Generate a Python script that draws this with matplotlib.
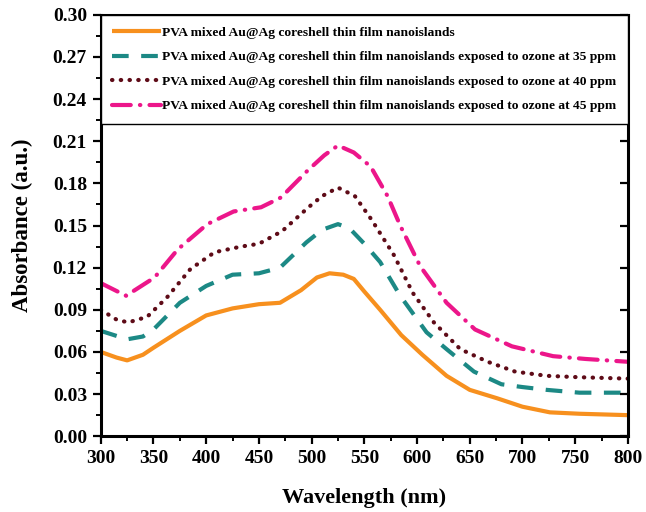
import matplotlib
matplotlib.use("Agg")
import matplotlib.pyplot as plt
from matplotlib.ticker import MultipleLocator

# absorbance spectra, wavelength in nm
wl_film = [300, 315, 325, 340, 350, 375, 400, 425, 450, 470, 490, 505, 517, 530,
           540, 550, 565, 585, 605, 628, 650, 676, 700, 726, 754, 800]
abs_film = [0.060, 0.056, 0.054, 0.058, 0.063, 0.075, 0.086, 0.091, 0.094, 0.095,
            0.104, 0.113, 0.116, 0.115, 0.112, 0.103, 0.090, 0.072, 0.058, 0.043,
            0.033, 0.027, 0.021, 0.017, 0.016, 0.015]

wl_35 = [300, 325, 340, 350, 375, 400, 425, 450, 470, 495, 510, 525, 536, 550,
         565, 584, 609, 628, 654, 680, 700, 723, 754, 800]
abs_35 = [0.075, 0.069, 0.071, 0.076, 0.095, 0.107, 0.115, 0.116, 0.120, 0.138,
          0.147, 0.151, 0.148, 0.137, 0.124, 0.100, 0.074, 0.062, 0.046, 0.037,
          0.035, 0.033, 0.031, 0.031]

wl_40 = [300, 315, 326, 344, 363, 385, 408, 433, 450, 472, 497, 510, 525, 541,
         557, 578, 596, 616, 641, 667, 693, 723, 754, 800]
abs_40 = [0.090, 0.083, 0.081, 0.085, 0.099, 0.119, 0.131, 0.135, 0.137, 0.146,
          0.163, 0.171, 0.177, 0.171, 0.154, 0.129, 0.102, 0.081, 0.062, 0.053,
          0.046, 0.043, 0.042, 0.041]

wl_45 = [300, 324, 351, 373, 401, 426, 452, 471, 496, 512, 525, 540, 556, 572,
         584, 603, 628, 655, 690, 729, 760, 800]
abs_45 = [0.109, 0.100, 0.113, 0.133, 0.151, 0.160, 0.163, 0.170, 0.189, 0.200,
          0.207, 0.202, 0.192, 0.171, 0.150, 0.121, 0.095, 0.076, 0.064, 0.057,
          0.055, 0.053]

labels = [
    "PVA mixed Au@Ag coreshell thin film nanoislands",
    "PVA mixed Au@Ag coreshell thin film nanoislands exposed to ozone at 35 ppm",
    "PVA mixed Au@Ag coreshell thin film nanoislands exposed to ozone at 40 ppm",
    "PVA mixed Au@Ag coreshell thin film nanoislands exposed to ozone at 45 ppm",
]

plt.rcParams["font.family"] = ["Liberation Serif", "DejaVu Serif"]
plt.rcParams["font.weight"] = "bold"

fig = plt.figure(figsize=(6.46, 5.12), dpi=100)
ax = fig.add_axes([0.156, 0.148, 0.816, 0.823])

ax.plot(wl_film, abs_film, color="#F7901E", lw=3.0, solid_capstyle="butt",
        label=labels[0])
ax.plot(wl_35, abs_35, color="#1C8985", lw=3.0, linestyle=(0, (4, 3)),
        label=labels[1])
ax.plot(wl_40, abs_40, color="#5E0B17", lw=3.0, linestyle=(0, (0.1, 2.0)),
        dash_capstyle="round", label=labels[2])
ax.plot(wl_45, abs_45, color="#EC168A", lw=3.0,
        linestyle=(0, (4.5, 2.2, 0.1, 2.2)), dash_capstyle="round",
        label=labels[3])

ax.set_xlim(300, 800)
ax.set_ylim(0.0, 0.30)
ax.xaxis.set_major_locator(MultipleLocator(50))
ax.xaxis.set_minor_locator(MultipleLocator(25))
ax.yaxis.set_major_locator(MultipleLocator(0.03))
ax.yaxis.set_minor_locator(MultipleLocator(0.015))
ax.yaxis.set_major_formatter(plt.FormatStrFormatter("%.2f"))

for s in ax.spines.values():
    s.set_linewidth(2.2)
ax.tick_params(which="major", direction="out", length=6, width=1.6,
               labelsize=14, pad=4)
ax.tick_params(which="minor", direction="out", length=3.5, width=1.4)
for lab in ax.get_xticklabels() + ax.get_yticklabels():
    lab.set_fontweight("bold")

# inward ticks on the right side
ax2 = ax.twinx()
ax2.set_ylim(ax.get_ylim())
ax2.yaxis.set_major_locator(MultipleLocator(0.03))
ax2.tick_params(direction="in", length=6, width=1.6, labelright=False)
for s in ax2.spines.values():
    s.set_visible(False)

ax.set_xlabel("Wavelength (nm)", fontsize=16, fontweight="bold", labelpad=15)
ax.set_ylabel("Absorbance (a.u.)", fontsize=16.5, fontweight="bold", labelpad=14)

handles, _ = ax.get_legend_handles_labels()
leg = fig.legend(handles, labels, loc="upper left", bbox_to_anchor=(0.0, 1.0),
                 bbox_transform=ax.transAxes, borderaxespad=0.0,
                 prop={"weight": "bold", "size": 9.7}, frameon=True,
                 fancybox=False, framealpha=1.0, edgecolor="black",
                 handlelength=3.6, handletextpad=0.1, labelspacing=0.9,
                 borderpad=0.85)
leg.get_frame().set_linewidth(1.0)

fig.savefig("out.png", dpi=100)
